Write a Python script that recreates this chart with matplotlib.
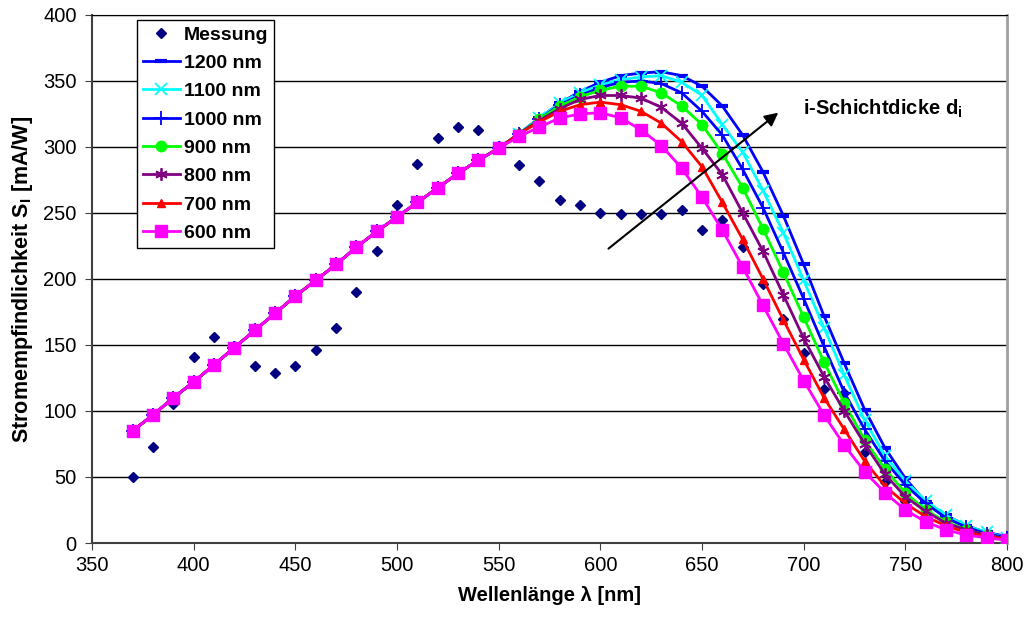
import matplotlib.pyplot as plt

plt.rcParams['font.family'] = ['Liberation Sans', 'DejaVu Sans']
plt.rcParams['mathtext.fontset'] = 'custom'
plt.rcParams['mathtext.rm'] = 'Liberation Sans'
plt.rcParams['mathtext.bf'] = 'Liberation Sans:bold'

# wavelength grid [nm]
wl = list(range(370, 810, 10))

# measured responsivity [mA/W]
messung = [50, 73, 105, 141, 156, 149, 134, 129, 134, 146, 163, 190, 221, 256,
           287, 307, 315, 313, 301, 286, 274, 260, 256, 250, 249, 249, 249, 252,
           237, 245, 224, 196, 170, 144, 117, 114, 69, 46, 32, 21, 13, 9, 5, 3]

# common rising part (identical for all thicknesses up to 550 nm)
common = [85, 97, 110, 122, 135, 148, 161, 174, 187, 199, 211, 224, 236, 247,
          258, 269, 280, 290, 299]

# simulated responsivity for i-layer thickness, 560 ... 800 nm
s600 = common + [308, 315, 322, 325, 326, 322, 313, 301, 284, 262, 237, 209,
                 180, 151, 123, 97, 74, 54, 38, 25, 16, 10, 6, 4, 2]
s700 = common + [310, 319, 327, 332, 334, 332, 327, 318, 304, 285, 258, 230,
                 200, 169, 139, 110, 86, 62, 43, 30, 20, 13, 8, 5, 3]
s800 = common + [310, 320, 329, 336, 339, 339, 337, 330, 318, 299, 279, 250,
                 221, 188, 155, 126, 100, 75, 52, 35, 24, 15, 10, 6, 3]
s900 = common + [310, 321, 331, 338, 343, 346, 346, 341, 331, 317, 295, 269,
                 238, 205, 171, 137, 106, 78, 56, 38, 25, 16, 10, 6, 3]
s1000 = common + [310, 321, 332, 339, 345, 349, 350, 348, 341, 327, 309, 283,
                  254, 220, 185, 149, 114, 86, 62, 44, 30, 19, 12, 7, 4]
s1100 = common + [310, 322, 333, 341, 347, 351, 353, 354, 349, 339, 317, 296,
                  267, 235, 199, 163, 127, 93, 66, 47, 32, 21, 13, 8, 4]
s1200 = common + [310, 322, 333, 342, 349, 354, 356, 357, 354, 346, 331, 309,
                  281, 248, 211, 172, 136, 101, 72, 49, 31, 21, 13, 8, 5]

series = [
    ("1200 nm", s1200, "#0000FF", "_", dict(markersize=8, markeredgewidth=3)),
    ("1100 nm", s1100, "#00FFFF", "x", dict(markersize=8, markeredgewidth=1.3)),
    ("1000 nm", s1000, "#0000FF", "+", dict(markersize=10, markeredgewidth=1.3)),
    ("900 nm", s900, "#00FF00", "o", dict(markersize=7.5)),
    ("800 nm", s800, "#800080", (6, 2, 0), dict(markersize=9, markeredgewidth=1.3)),
    ("700 nm", s700, "#FF0000", "^", dict(markersize=6)),
    ("600 nm", s600, "#FF00FF", "s", dict(markersize=8)),
]

fig, ax = plt.subplots(figsize=(10.26, 6.23), dpi=100)
fig.subplots_adjust(left=0.0897, right=0.9815, top=0.976, bottom=0.1284)

ax.plot(wl, messung, linestyle="none", marker="D", markersize=5.5,
        color="#000080", label="Messung", zorder=3)
for name, vals, col, mk, kw in series:
    ax.plot(wl, vals, color=col, lw=2, marker=mk, markeredgecolor=col,
            label=name, zorder=3, **kw)

ax.set_xlim(350, 800)
ax.set_ylim(0, 400)
ax.set_xticks(range(350, 801, 50))
ax.set_yticks(range(0, 401, 50))
ax.yaxis.grid(True, color="black", lw=1)
ax.set_axisbelow(True)
ax.tick_params(labelsize=14.5, length=5, color="#404040")
ax.tick_params(axis="y", pad=6)
ax.tick_params(axis="x", pad=4)
for side in ("left", "bottom"):
    ax.spines[side].set_color("#404040")
    ax.spines[side].set_linewidth(1.5)
ax.spines["right"].set_color("#a0a0a0")
ax.spines["right"].set_linewidth(2)
ax.spines["top"].set_color("black")

ax.set_xlabel(r"Wellenlänge λ [nm]", fontsize=14.5, fontweight="bold", labelpad=8)
ax.set_ylabel(r"Stromempfindlichkeit $\mathbf{S_I}$ [mA/W]", fontsize=15.5,
              fontweight="bold", labelpad=6)

ax.annotate("", xy=(687.5, 326), xytext=(604, 223),
            arrowprops=dict(arrowstyle="-|>", color="black", lw=1.5,
                            mutation_scale=20, shrinkA=0, shrinkB=0))
ax.text(699.5, 329, r"i-Schichtdicke $\mathbf{d_i}$", fontsize=14.5,
        fontweight="bold", va="center", ha="left")

leg = ax.legend(loc="upper left", bbox_to_anchor=(0.049, 0.99), borderaxespad=0,
                prop={"weight": "bold", "size": 14}, frameon=True,
                fancybox=False, edgecolor="black", framealpha=1,
                handlelength=1.9, handletextpad=0.2, labelspacing=0.55,
                borderpad=0.3)
leg.get_frame().set_linewidth(1)

fig.savefig("out.png", dpi=100)
